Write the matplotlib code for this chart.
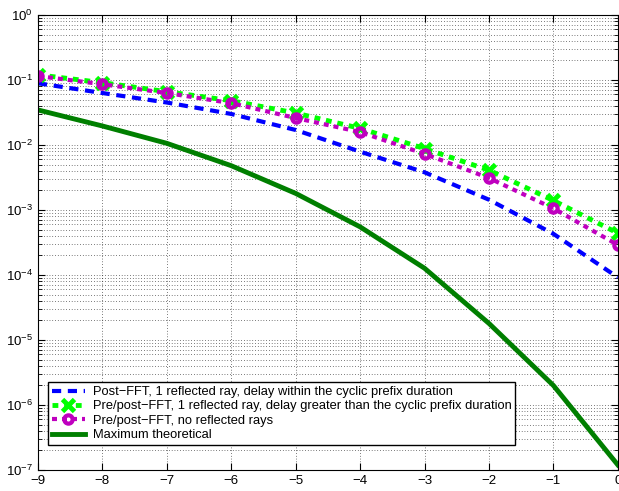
import numpy as np
import matplotlib
matplotlib.use('Agg')
import matplotlib.pyplot as plt
from matplotlib.ticker import LogLocator, NullFormatter

plt.rcParams['font.family'] = ['Liberation Sans', 'DejaVu Sans']
plt.rcParams['mathtext.fontset'] = 'custom'
plt.rcParams['mathtext.rm'] = 'Liberation Sans'
plt.rcParams['mathtext.it'] = 'Liberation Sans'
plt.rcParams['mathtext.default'] = 'regular'

x = np.arange(-9, 1)

# Post-FFT, 1 reflected ray, delay within CP
post_within = [0.089, 0.063, 0.045, 0.030, 0.017, 0.0079, 0.0038, 0.00144, 0.00043, 0.000092]
# Pre/post-FFT, 1 reflected ray, delay greater than CP
pre_greater = [0.12, 0.091, 0.066, 0.048, 0.031, 0.018, 0.0088, 0.0041, 0.0014, 0.00044]
# Pre/post-FFT, no reflected rays
pre_none = [0.115, 0.086, 0.063, 0.044, 0.026, 0.0158, 0.0073, 0.0031, 0.00106, 0.00029]
# Maximum theoretical
max_theory = [0.0346, 0.0196, 0.0106, 0.0048, 0.0018, 5.5e-4, 1.27e-4, 1.8e-5, 2.0e-6, 1.2e-7]

labels = ['Post\u2212FFT, 1 reflected ray, delay within the cyclic prefix duration',
          'Pre/post\u2212FFT, 1 reflected ray, delay greater than the cyclic prefix duration',
          'Pre/post\u2212FFT, no reflected rays',
          'Maximum theoretical']

fig = plt.figure(figsize=(6.19, 4.91), dpi=100)
ax = fig.add_axes([0.0614, 0.0428, 0.9366, 0.9267])

ax.semilogy(x, post_within, color='#0000ff', linestyle=(0, (2.2, 1.6)), linewidth=3, label=labels[0])
ax.semilogy(x, pre_greater, color='#00ff00', linestyle=(0, (1.2, 1.2)), linewidth=3.5,
            marker='x', markersize=8, markeredgewidth=3.5, label=labels[1])
ax.semilogy(x, pre_none, color='#bf00bf', linestyle=(0, (1.2, 1.2)), linewidth=3,
            marker='o', markersize=6, markeredgewidth=3, markerfacecolor='none', label=labels[2])
ax.semilogy(x, max_theory, color='#007f00', linestyle='-', linewidth=3.5, label=labels[3])

ax.set_xlim(-9, 0)
ax.set_ylim(1e-7, 1)
ax.set_xticks(x)
ax.yaxis.set_major_locator(LogLocator(base=10, numticks=10))
ax.yaxis.set_minor_locator(LogLocator(base=10, subs=np.arange(2, 10), numticks=100))
ax.yaxis.set_minor_formatter(NullFormatter())

ax.grid(True, which='major', linestyle=(0, (1, 3)), color='black', linewidth=0.5)
ax.grid(True, which='minor', axis='y', linestyle=(0, (1, 3)), color='black', linewidth=0.5)
ax.tick_params(which='both', direction='in', top=True, right=True, labelsize=9.5)
ax.tick_params(which='major', length=5)
ax.tick_params(which='minor', length=3)
for s in ax.spines.values():
    s.set_linewidth(0.8)

leg = ax.legend(loc='lower left', bbox_to_anchor=(0.017, 0.055), borderaxespad=0,
                fontsize=9.25, frameon=True, fancybox=False, edgecolor='black',
                handlelength=2.6, labelspacing=0.18, borderpad=0.3, handletextpad=0.6)
leg.get_frame().set_linewidth(1.0)
leg.get_frame().set_alpha(1)

fig.savefig('out.png', dpi=100)
